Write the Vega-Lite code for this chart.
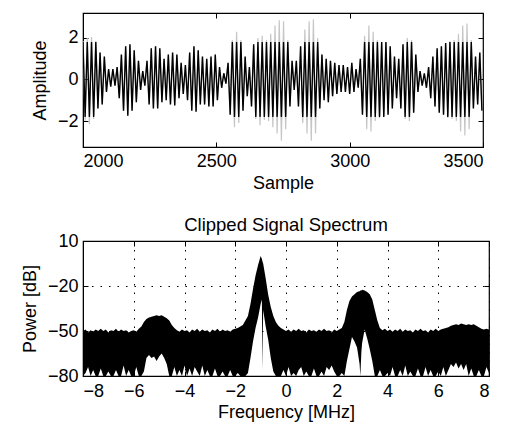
{
"$schema": "https://vega.github.io/schema/vega-lite/v6.json",
"background": "white",
"padding": {"left": 20, "top": 11, "right": 20, "bottom": 5},
"spacing": 21,
"config": {
  "font": "Liberation Sans",
  "view": {"stroke": "black", "strokeWidth": 1.2},
  "axis": {"labelFont": "Liberation Sans", "labelFontSize": 18, "labelColor": "black", "titleFont": "Liberation Sans", "titleFontSize": 18, "titleFontWeight": "normal", "titleColor": "black", "domainColor": "black", "tickColor": "black", "tickSize": -5, "labelPadding": 10, "grid": false},
  "title": {"font": "Liberation Sans", "fontSize": 18.5, "fontWeight": "normal", "color": "black"}
},
"vconcat": [
{
  "width": 400, "height": 134,
  "data": {"values": [
{"s":2000,"r":1.85,"c":1.8},{"s":2008,"r":-2.0,"c":-1.8},{"s":2016,"r":2.0,"c":1.8},{"s":2024,"r":-2.15,"c":-1.8},{"s":2032,"r":2.05,"c":1.8},{"s":2040,"r":-1.9,"c":-1.8},{"s":2048,"r":1.85,"c":1.8},{"s":2056,"r":-1.4,"c":-1.4},{"s":2064,"r":1.3,"c":1.3},{"s":2072,"r":-1.2,"c":-1.2},{"s":2080,"r":1.1,"c":1.1},{"s":2088,"r":-0.6,"c":-0.6},{"s":2096,"r":0.5,"c":0.5},{"s":2104,"r":-0.35,"c":-0.35},{"s":2112,"r":0.5,"c":0.5},{"s":2120,"r":-0.3,"c":-0.3},{"s":2128,"r":0.6,"c":0.6},{"s":2136,"r":-0.9,"c":-0.9},{"s":2144,"r":1.2,"c":1.2},{"s":2152,"r":-1.5,"c":-1.5},{"s":2160,"r":1.6,"c":1.6},{"s":2168,"r":-1.75,"c":-1.75},{"s":2176,"r":1.7,"c":1.7},{"s":2184,"r":-1.5,"c":-1.5},{"s":2192,"r":1.4,"c":1.4},{"s":2200,"r":-1.1,"c":-1.1},{"s":2208,"r":0.9,"c":0.9},{"s":2216,"r":-0.5,"c":-0.5},{"s":2224,"r":0.4,"c":0.4},{"s":2232,"r":-0.3,"c":-0.3},{"s":2240,"r":0.9,"c":0.9},{"s":2248,"r":-1.2,"c":-1.2},{"s":2256,"r":1.5,"c":1.5},{"s":2264,"r":-1.4,"c":-1.4},{"s":2272,"r":1.6,"c":1.6},{"s":2280,"r":-1.4,"c":-1.4},{"s":2288,"r":1.5,"c":1.5},{"s":2296,"r":-1.1,"c":-1.1},{"s":2304,"r":1.0,"c":1.0},{"s":2312,"r":-1.0,"c":-1.0},{"s":2320,"r":1.2,"c":1.2},{"s":2328,"r":-1.2,"c":-1.2},{"s":2336,"r":1.3,"c":1.3},{"s":2344,"r":-1.25,"c":-1.25},{"s":2352,"r":1.2,"c":1.2},{"s":2360,"r":-0.9,"c":-0.9},{"s":2368,"r":0.8,"c":0.8},{"s":2376,"r":-0.7,"c":-0.7},{"s":2384,"r":0.7,"c":0.7},{"s":2392,"r":-1.0,"c":-1.0},{"s":2400,"r":1.3,"c":1.3},{"s":2408,"r":-1.5,"c":-1.5},{"s":2416,"r":1.6,"c":1.6},{"s":2424,"r":-1.55,"c":-1.55},{"s":2432,"r":1.4,"c":1.4},{"s":2440,"r":-1.2,"c":-1.2},{"s":2448,"r":1.1,"c":1.1},{"s":2456,"r":-1.2,"c":-1.2},{"s":2464,"r":1.0,"c":1.0},{"s":2472,"r":-1.3,"c":-1.3},{"s":2480,"r":1.1,"c":1.1},{"s":2488,"r":-1.3,"c":-1.3},{"s":2496,"r":1.2,"c":1.2},{"s":2504,"r":-1.0,"c":-1.0},{"s":2512,"r":0.6,"c":0.6},{"s":2520,"r":-0.4,"c":-0.4},{"s":2528,"r":0.3,"c":0.3},{"s":2536,"r":-0.2,"c":-0.2},{"s":2544,"r":0.8,"c":0.8},{"s":2552,"r":-1.7,"c":-1.7},{"s":2560,"r":1.9,"c":1.8},{"s":2568,"r":-2.3,"c":-1.8},{"s":2576,"r":2.3,"c":1.8},{"s":2584,"r":-2.1,"c":-1.8},{"s":2592,"r":1.9,"c":1.8},{"s":2600,"r":-1.5,"c":-1.5},{"s":2608,"r":1.1,"c":1.1},{"s":2616,"r":-0.8,"c":-0.8},{"s":2624,"r":0.6,"c":0.6},{"s":2632,"r":-1.3,"c":-1.3},{"s":2640,"r":1.7,"c":1.7},{"s":2648,"r":-1.9,"c":-1.8},{"s":2656,"r":2.0,"c":1.8},{"s":2664,"r":-2.2,"c":-1.8},{"s":2672,"r":2.1,"c":1.8},{"s":2680,"r":-1.95,"c":-1.8},{"s":2688,"r":1.9,"c":1.8},{"s":2696,"r":-2.0,"c":-1.8},{"s":2704,"r":2.2,"c":1.8},{"s":2712,"r":-2.3,"c":-1.8},{"s":2720,"r":2.6,"c":1.8},{"s":2728,"r":-2.6,"c":-1.8},{"s":2736,"r":2.85,"c":1.8},{"s":2744,"r":-2.95,"c":-1.8},{"s":2752,"r":2.8,"c":1.8},{"s":2760,"r":-2.4,"c":-1.8},{"s":2768,"r":1.9,"c":1.8},{"s":2776,"r":-1.3,"c":-1.3},{"s":2784,"r":0.9,"c":0.9},{"s":2792,"r":-0.5,"c":-0.5},{"s":2800,"r":0.9,"c":0.9},{"s":2808,"r":-1.3,"c":-1.3},{"s":2816,"r":1.6,"c":1.6},{"s":2824,"r":-2.1,"c":-1.8},{"s":2832,"r":2.4,"c":1.8},{"s":2840,"r":-2.6,"c":-1.8},{"s":2848,"r":2.8,"c":1.8},{"s":2856,"r":-2.95,"c":-1.8},{"s":2864,"r":2.9,"c":1.8},{"s":2872,"r":-2.6,"c":-1.8},{"s":2880,"r":2.0,"c":1.8},{"s":2888,"r":-1.4,"c":-1.4},{"s":2896,"r":1.2,"c":1.2},{"s":2904,"r":-1.0,"c":-1.0},{"s":2912,"r":1.0,"c":1.0},{"s":2920,"r":-1.1,"c":-1.1},{"s":2928,"r":0.9,"c":0.9},{"s":2936,"r":-0.8,"c":-0.8},{"s":2944,"r":0.8,"c":0.8},{"s":2952,"r":-0.7,"c":-0.7},{"s":2960,"r":0.7,"c":0.7},{"s":2968,"r":-0.6,"c":-0.6},{"s":2976,"r":0.7,"c":0.7},{"s":2984,"r":-0.6,"c":-0.6},{"s":2992,"r":0.6,"c":0.6},{"s":3000,"r":-0.7,"c":-0.7},{"s":3008,"r":0.8,"c":0.8},{"s":3016,"r":-0.6,"c":-0.6},{"s":3024,"r":0.5,"c":0.5},{"s":3032,"r":-0.4,"c":-0.4},{"s":3040,"r":1.0,"c":1.0},{"s":3048,"r":-1.7,"c":-1.7},{"s":3056,"r":2.1,"c":1.8},{"s":3064,"r":-2.4,"c":-1.8},{"s":3072,"r":2.6,"c":1.8},{"s":3080,"r":-2.5,"c":-1.8},{"s":3088,"r":2.3,"c":1.8},{"s":3096,"r":-2.0,"c":-1.8},{"s":3104,"r":1.9,"c":1.8},{"s":3112,"r":-1.85,"c":-1.8},{"s":3120,"r":1.8,"c":1.8},{"s":3128,"r":-1.8,"c":-1.8},{"s":3136,"r":1.8,"c":1.8},{"s":3144,"r":-1.7,"c":-1.7},{"s":3152,"r":1.6,"c":1.6},{"s":3160,"r":-1.4,"c":-1.4},{"s":3168,"r":1.1,"c":1.1},{"s":3176,"r":-0.9,"c":-0.9},{"s":3184,"r":1.0,"c":1.0},{"s":3192,"r":-1.4,"c":-1.4},{"s":3200,"r":1.7,"c":1.7},{"s":3208,"r":-1.9,"c":-1.8},{"s":3216,"r":2.0,"c":1.8},{"s":3224,"r":-2.0,"c":-1.8},{"s":3232,"r":1.9,"c":1.8},{"s":3240,"r":-1.6,"c":-1.6},{"s":3248,"r":1.2,"c":1.2},{"s":3256,"r":-0.6,"c":-0.6},{"s":3264,"r":0.4,"c":0.4},{"s":3272,"r":-0.3,"c":-0.3},{"s":3280,"r":0.3,"c":0.3},{"s":3288,"r":-0.4,"c":-0.4},{"s":3296,"r":0.6,"c":0.6},{"s":3304,"r":-0.9,"c":-0.9},{"s":3312,"r":1.1,"c":1.1},{"s":3320,"r":-1.3,"c":-1.3},{"s":3328,"r":1.5,"c":1.5},{"s":3336,"r":-1.6,"c":-1.6},{"s":3344,"r":1.6,"c":1.6},{"s":3352,"r":-1.7,"c":-1.7},{"s":3360,"r":1.75,"c":1.75},{"s":3368,"r":-1.85,"c":-1.8},{"s":3376,"r":1.85,"c":1.8},{"s":3384,"r":-1.9,"c":-1.8},{"s":3392,"r":1.9,"c":1.8},{"s":3400,"r":-2.0,"c":-1.8},{"s":3408,"r":2.2,"c":1.8},{"s":3416,"r":-2.5,"c":-1.8},{"s":3424,"r":2.6,"c":1.8},{"s":3432,"r":-2.7,"c":-1.8},{"s":3440,"r":2.7,"c":1.8},{"s":3448,"r":-2.4,"c":-1.8},{"s":3456,"r":1.9,"c":1.8},{"s":3464,"r":-1.4,"c":-1.4},{"s":3472,"r":1.1,"c":1.1},{"s":3480,"r":-1.2,"c":-1.2},{"s":3488,"r":1.3,"c":1.3},{"s":3496,"r":-1.5,"c":-1.5}
  ]},
  "layer": [
    {"mark": {"type": "line", "color": "#c6c6c6", "strokeWidth": 1.2, "clip": true},
     "encoding": {
       "x": {"field": "s", "type": "quantitative", "scale": {"domain": [2000, 3500], "nice": false, "zero": false},
             "axis": {"values": [2000, 2500, 3000, 3500], "format": "d", "title": "Sample", "titlePadding": 4}},
       "y": {"field": "r", "type": "quantitative", "scale": {"domain": [-3.25, 3.2], "nice": false},
             "axis": {"values": [-2, 0, 2], "title": "Amplitude", "titlePadding": 8}}}},
    {"mark": {"type": "line", "color": "black", "strokeWidth": 1.4, "clip": true},
     "encoding": {
       "x": {"field": "s", "type": "quantitative", "scale": {"domain": [2000, 3500], "nice": false, "zero": false},
             "axis": {"orient": "top", "values": [2000, 2500, 3000, 3500], "labels": false, "title": null, "domain": false}},
       "y": {"field": "c", "type": "quantitative", "scale": {"domain": [-3.25, 3.2], "nice": false},
             "axis": {"orient": "right", "values": [-2, 0, 2], "labels": false, "title": null, "domain": false}}}}
  ],
  "resolve": {"axis": {"x": "independent", "y": "independent"}}
},
{
  "width": 406, "height": 135,
  "title": {"text": "Clipped Signal Spectrum", "offset": -2},
  "data": {"values": [
{"f":-8.0,"u":-50,"l":-80},{"f":-7.9,"u":-49,"l":-78},{"f":-7.8,"u":-51,"l":-74},{"f":-7.7,"u":-49.5,"l":-80},{"f":-7.6,"u":-50.5,"l":-76},{"f":-7.5,"u":-49,"l":-80},{"f":-7.4,"u":-50,"l":-80},{"f":-7.3,"u":-48.5,"l":-75},{"f":-7.2,"u":-50,"l":-80},{"f":-7.1,"u":-49,"l":-80},{"f":-7.0,"u":-51,"l":-77},{"f":-6.9,"u":-49.5,"l":-80},{"f":-6.8,"u":-50,"l":-80},{"f":-6.7,"u":-48.5,"l":-76},{"f":-6.6,"u":-50.5,"l":-80},{"f":-6.5,"u":-49,"l":-80},{"f":-6.4,"u":-50,"l":-73},{"f":-6.3,"u":-49.5,"l":-80},{"f":-6.2,"u":-51,"l":-76},{"f":-6.1,"u":-50,"l":-80},{"f":-6.0,"u":-49.5,"l":-80},{"f":-5.9,"u":-50.5,"l":-74},{"f":-5.8,"u":-48.5,"l":-80},{"f":-5.7,"u":-47,"l":-80},{"f":-5.6,"u":-44,"l":-77},{"f":-5.5,"u":-42,"l":-68},{"f":-5.4,"u":-41,"l":-66},{"f":-5.3,"u":-40.5,"l":-68},{"f":-5.2,"u":-40,"l":-67},{"f":-5.1,"u":-39.5,"l":-70},{"f":-5.0,"u":-40,"l":-67},{"f":-4.9,"u":-39.5,"l":-65},{"f":-4.8,"u":-40.5,"l":-68},{"f":-4.7,"u":-41.5,"l":-72},{"f":-4.6,"u":-43,"l":-80},{"f":-4.5,"u":-46,"l":-80},{"f":-4.4,"u":-48,"l":-74},{"f":-4.3,"u":-49.5,"l":-80},{"f":-4.2,"u":-50.5,"l":-76},{"f":-4.1,"u":-49,"l":-80},{"f":-4.0,"u":-50,"l":-73},{"f":-3.9,"u":-49.5,"l":-80},{"f":-3.8,"u":-51,"l":-75},{"f":-3.7,"u":-49,"l":-80},{"f":-3.6,"u":-50,"l":-74},{"f":-3.5,"u":-48.5,"l":-77},{"f":-3.4,"u":-50.5,"l":-80},{"f":-3.3,"u":-49,"l":-73},{"f":-3.2,"u":-50,"l":-80},{"f":-3.1,"u":-49.5,"l":-76},{"f":-3.0,"u":-51,"l":-80},{"f":-2.9,"u":-49,"l":-80},{"f":-2.8,"u":-50,"l":-75},{"f":-2.7,"u":-48.5,"l":-80},{"f":-2.6,"u":-50.5,"l":-80},{"f":-2.5,"u":-49,"l":-77},{"f":-2.4,"u":-50,"l":-80},{"f":-2.3,"u":-49.5,"l":-80},{"f":-2.2,"u":-50.5,"l":-76},{"f":-2.1,"u":-49,"l":-80},{"f":-2.0,"u":-48.5,"l":-80},{"f":-1.9,"u":-48,"l":-78},{"f":-1.8,"u":-47,"l":-80},{"f":-1.7,"u":-46,"l":-80},{"f":-1.6,"u":-43,"l":-80},{"f":-1.5,"u":-40,"l":-78},{"f":-1.4,"u":-32,"l":-68},{"f":-1.3,"u":-22,"l":-57},{"f":-1.2,"u":-13,"l":-48},{"f":-1.1,"u":-6,"l":-41},{"f":-1.0,"u":0,"l":-32},{"f":-0.95,"u":-2,"l":-29},{"f":-0.93,"u":-3.5,"l":-76},{"f":-0.9,"u":-5,"l":-36},{"f":-0.8,"u":-15,"l":-47},{"f":-0.7,"u":-26,"l":-56},{"f":-0.6,"u":-34,"l":-68},{"f":-0.5,"u":-40,"l":-77},{"f":-0.4,"u":-44,"l":-80},{"f":-0.3,"u":-46.5,"l":-80},{"f":-0.2,"u":-48,"l":-80},{"f":-0.1,"u":-49,"l":-76},{"f":0.0,"u":-50,"l":-80},{"f":0.1,"u":-49,"l":-74},{"f":0.2,"u":-50.5,"l":-80},{"f":0.3,"u":-49,"l":-78},{"f":0.4,"u":-50,"l":-80},{"f":0.5,"u":-48.5,"l":-76},{"f":0.6,"u":-50,"l":-74},{"f":0.7,"u":-49.5,"l":-80},{"f":0.8,"u":-51,"l":-77},{"f":0.9,"u":-49,"l":-80},{"f":1.0,"u":-50,"l":-80},{"f":1.1,"u":-49.5,"l":-75},{"f":1.2,"u":-50.5,"l":-80},{"f":1.3,"u":-49,"l":-80},{"f":1.4,"u":-50,"l":-77},{"f":1.5,"u":-48.5,"l":-80},{"f":1.6,"u":-50,"l":-74},{"f":1.7,"u":-49.5,"l":-76},{"f":1.8,"u":-51,"l":-73},{"f":1.9,"u":-49,"l":-77},{"f":2.0,"u":-50,"l":-80},{"f":2.1,"u":-49,"l":-80},{"f":2.2,"u":-48,"l":-78},{"f":2.3,"u":-44,"l":-80},{"f":2.4,"u":-36,"l":-70},{"f":2.5,"u":-30,"l":-62},{"f":2.6,"u":-27,"l":-54},{"f":2.7,"u":-25.5,"l":-57},{"f":2.8,"u":-24,"l":-61},{"f":2.9,"u":-23.5,"l":-72},{"f":2.93,"u":-23,"l":-80},{"f":2.97,"u":-23,"l":-64},{"f":3.0,"u":-22.5,"l":-58},{"f":3.1,"u":-23,"l":-49},{"f":3.2,"u":-24,"l":-55},{"f":3.3,"u":-25.5,"l":-62},{"f":3.4,"u":-29,"l":-70},{"f":3.5,"u":-36,"l":-80},{"f":3.6,"u":-43,"l":-80},{"f":3.7,"u":-48,"l":-76},{"f":3.8,"u":-49.5,"l":-80},{"f":3.9,"u":-48.5,"l":-80},{"f":4.0,"u":-50,"l":-78},{"f":4.1,"u":-49,"l":-80},{"f":4.2,"u":-50.5,"l":-74},{"f":4.3,"u":-49,"l":-80},{"f":4.4,"u":-50,"l":-80},{"f":4.5,"u":-48.5,"l":-76},{"f":4.6,"u":-50.5,"l":-80},{"f":4.7,"u":-49,"l":-73},{"f":4.8,"u":-50,"l":-80},{"f":4.9,"u":-49.5,"l":-77},{"f":5.0,"u":-51,"l":-80},{"f":5.1,"u":-49,"l":-80},{"f":5.2,"u":-50,"l":-75},{"f":5.3,"u":-48.5,"l":-80},{"f":5.4,"u":-50,"l":-80},{"f":5.5,"u":-49.5,"l":-74},{"f":5.6,"u":-51,"l":-80},{"f":5.7,"u":-49,"l":-76},{"f":5.8,"u":-50,"l":-80},{"f":5.9,"u":-48.5,"l":-80},{"f":6.0,"u":-50,"l":-77},{"f":6.1,"u":-49,"l":-80},{"f":6.2,"u":-48.5,"l":-74},{"f":6.3,"u":-48,"l":-80},{"f":6.4,"u":-47.5,"l":-76},{"f":6.5,"u":-46.5,"l":-72},{"f":6.6,"u":-46,"l":-74},{"f":6.7,"u":-45.5,"l":-71},{"f":6.8,"u":-46,"l":-75},{"f":6.9,"u":-45,"l":-72},{"f":7.0,"u":-45.5,"l":-76},{"f":7.1,"u":-46,"l":-72},{"f":7.2,"u":-45.5,"l":-80},{"f":7.3,"u":-46,"l":-75},{"f":7.4,"u":-45.5,"l":-80},{"f":7.5,"u":-46.5,"l":-80},{"f":7.6,"u":-47.5,"l":-76},{"f":7.7,"u":-48.5,"l":-80},{"f":7.8,"u":-49,"l":-80},{"f":7.9,"u":-48.5,"l":-74},{"f":8.0,"u":-49,"l":-78}
  ]},
  "layer": [
    {"mark": {"type": "area", "color": "black", "clip": true},
     "encoding": {
       "x": {"field": "f", "type": "quantitative", "scale": {"domain": [-8, 8], "nice": false, "zero": false},
             "axis": {"values": [-8, -6, -4, -2, 0, 2, 4, 6, 8], "title": "Frequency [MHz]", "titlePadding": 3, "labelPadding": 11, "grid": true, "gridColor": "#000", "gridDash": [1.5, 7], "gridWidth": 1}},
       "y": {"field": "u", "type": "quantitative", "scale": {"domain": [-80, 10], "nice": false, "zero": false},
             "axis": {"values": [10, -20, -50, -80], "title": "Power [dB]", "titlePadding": 8, "grid": true, "gridColor": "#000", "gridDash": [1.5, 7], "gridWidth": 1}},
       "y2": {"field": "l"}}},
    {"mark": {"type": "area", "opacity": 0},
     "encoding": {
       "x": {"field": "f", "type": "quantitative", "scale": {"domain": [-8, 8], "nice": false, "zero": false},
             "axis": {"orient": "top", "values": [-8, -6, -4, -2, 0, 2, 4, 6, 8], "labels": false, "title": null, "domain": false}},
       "y": {"field": "u", "type": "quantitative", "scale": {"domain": [-80, 10], "nice": false, "zero": false},
             "axis": {"orient": "right", "values": [10, -20, -50, -80], "labels": false, "title": null, "domain": false}},
       "y2": {"field": "l"}}}
  ],
  "resolve": {"axis": {"x": "independent", "y": "independent"}}
}
]
}
